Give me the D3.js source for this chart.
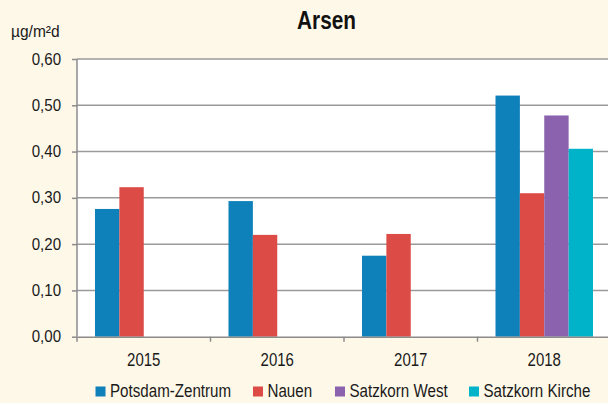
<!DOCTYPE html>
<html>
<head>
<meta charset="utf-8">
<script src="https://cdn.jsdelivr.net/npm/d3@7"></script>
<style>
  body { margin: 0; background: #fef8e8; }
  svg { display: block; font-family: 'Liberation Sans', Arial, sans-serif; }
</style>
</head>
<body>
<div id="chart"></div>
<script>
const width = 608;
const height = 403;

const years = ['2015', '2016', '2017', '2018'];
const stations = ['Potsdam-Zentrum', 'Nauen', 'Satzkorn West', 'Satzkorn Kirche'];
const colors = ['#0e80ba', '#dc4b46', '#8a62ae', '#00b3c8'];
const potsdam = [0.276, 0.293, 0.175, 0.521];
const nauen = [0.323, 0.220, 0.222, 0.310];
const satzkornWest = [null, null, null, 0.478];
const satzkornKirche = [null, null, null, 0.406];
const yTicks = [0, 0.1, 0.2, 0.3, 0.4, 0.5, 0.6];

const series = [potsdam, nauen, satzkornWest, satzkornKirche];

const plot = { left: 77, right: 611, top: 59, bottom: 336.7 };

// the original text is squeezed sideways, so shrink glyphs horizontally
function squeeze(sel, size, ratio) {
  sel.attr('font-size', size)
    .attr('fill', '#1a1a1a')
    .each(function () {
      const w = this.getComputedTextLength();
      d3.select(this)
        .attr('textLength', w * ratio)
        .attr('lengthAdjust', 'spacingAndGlyphs');
    });
}

const svg = d3.select('#chart')
  .append('svg')
  .attr('width', width)
  .attr('height', height);

svg.append('rect')
  .attr('width', width)
  .attr('height', height)
  .attr('fill', '#fef8e8');

const x = d3.scaleBand()
  .domain(years)
  .range([plot.left, plot.right]);

const xInner = d3.scaleBand()
  .domain(stations)
  .range([0, 97.5]);

const y = d3.scaleLinear()
  .domain([0, 0.6])
  .range([plot.bottom, plot.top]);

svg.append('rect')
  .attr('x', plot.left)
  .attr('y', plot.top)
  .attr('width', plot.right - plot.left)
  .attr('height', plot.bottom - plot.top)
  .attr('fill', '#fff');

// gridlines
svg.append('g')
  .selectAll('line')
  .data(yTicks.slice(1))
  .enter()
  .append('line')
  .attr('x1', plot.left)
  .attr('x2', plot.right)
  .attr('y1', (d) => y(d))
  .attr('y2', (d) => y(d))
  .attr('stroke', '#9a9a9a')
  .attr('stroke-width', 1.5);

// bars
const bars = [];
series.forEach((vals, s) => {
  vals.forEach((v, i) => {
    if (v != null) bars.push({ year: years[i], station: stations[s], value: v, color: colors[s] });
  });
});

svg.append('g')
  .selectAll('rect')
  .data(bars)
  .enter()
  .append('rect')
  .attr('x', (d) => x(d.year) + x.bandwidth() / 2 - 48.75 + xInner(d.station))
  .attr('y', (d) => y(d.value))
  .attr('width', xInner.bandwidth())
  .attr('height', (d) => y(0) - y(d.value))
  .attr('fill', (d) => d.color);

// y axis
const yAxis = d3.axisLeft(y)
  .tickValues(yTicks)
  .tickSize(5)
  .tickPadding(11)
  .tickFormat((d) => d3.format('.2f')(d).replace('.', ','));

const gy = svg.append('g')
  .attr('transform', `translate(${plot.left},0)`)
  .call(yAxis);
gy.select('.domain').attr('stroke', '#8c8c8c').attr('stroke-width', 1.5)
  .attr('d', `M0,${plot.top}V${plot.bottom}`);
gy.selectAll('.tick line').attr('stroke', '#8c8c8c').attr('stroke-width', 1.5);
gy.selectAll('.tick text').call(squeeze, 16, 0.94);

// x axis
const gx = svg.append('g')
  .attr('transform', `translate(0,${plot.bottom})`)
  .call(d3.axisBottom(x).tickSize(0).tickPadding(16));
gx.select('.domain').attr('stroke', '#8c8c8c').attr('stroke-width', 1.5);
gx.selectAll('.tick text').call(squeeze, 18.5, 0.81);

gx.selectAll('.sep')
  .data(years)
  .enter()
  .append('line')
  .attr('x1', (d) => x(d))
  .attr('x2', (d) => x(d))
  .attr('y1', 0)
  .attr('y2', 5)
  .attr('stroke', '#8c8c8c')
  .attr('stroke-width', 1.5);

// title and unit
svg.append('text')
  .attr('x', 326.5)
  .attr('y', 28.5)
  .attr('text-anchor', 'middle')
  .attr('font-weight', 'bold')
  .text('Arsen')
  .call(squeeze, 26, 0.8)
  .attr('fill', '#111');

svg.append('text')
  .attr('x', 11)
  .attr('y', 37)
  .text('µg/m²d')
  .call(squeeze, 16, 0.97);

// legend
const legendX = [95.5, 253, 335, 469];
const legend = svg.append('g')
  .selectAll('g')
  .data(stations)
  .enter()
  .append('g')
  .attr('transform', (d, i) => `translate(${legendX[i]},386.5)`);

legend.append('rect')
  .attr('width', 10)
  .attr('height', 10)
  .attr('fill', (d, i) => colors[i]);

legend.append('text')
  .attr('x', 14.5)
  .attr('y', 10.5)
  .text((d) => d)
  .call(squeeze, 17.5, 0.865);
</script>
</body>
</html>
